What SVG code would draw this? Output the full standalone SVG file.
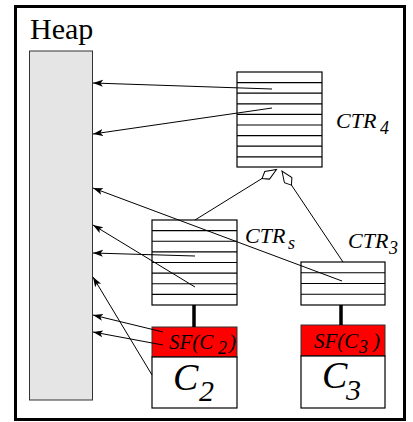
<svg xmlns="http://www.w3.org/2000/svg" width="413" height="422" viewBox="0 0 413 422">
<style>
.t{font-family:"Liberation Serif","Times New Roman",serif;fill:#000}
.i{font-style:italic}
.box{fill:#fff;stroke:#000;stroke-width:1.2}
.row{stroke:#000;stroke-width:1.2}
.ref{stroke:#000;stroke-width:1;fill:none}
.thick{stroke:#000;stroke-width:3.5}
.sf{fill:#ff0000;stroke:#333;stroke-width:1}
</style>
<defs>
<marker id="ah" markerUnits="userSpaceOnUse" markerWidth="12" markerHeight="8" refX="10" refY="3.5" orient="auto">
<path d="M0,0 L10,3.5 L0,7 L2.5,3.5 Z" fill="#000"/>
</marker>
<marker id="hol" markerUnits="userSpaceOnUse" markerWidth="20" markerHeight="12" refX="18" refY="5" orient="auto">
<path d="M18,5 L7,0.5 L1,5 L7,9.5 Z" fill="#fff" stroke="#000" stroke-width="1"/>
</marker>
</defs>
<rect x="15.5" y="6.5" width="389" height="413" fill="#fff" stroke="#000" stroke-width="3"/>
<g id="heap">
<text class="t" x="30" y="39" font-size="30">Heap</text>
<rect x="29.5" y="51" width="63" height="349" fill="#e5e5e5" stroke="#333" stroke-width="1"/>
</g>
<g id="ctr4">
<rect class="box" x="237" y="72" width="85" height="95"/>
<path class="row" d="M237,82.6H322M237,93.2H322M237,103.8H322M237,114.4H322M237,125H322M237,135.6H322M237,146.2H322M237,156.8H322"/>
<text class="t i" x="336" y="128" font-size="22">CTR<tspan x="380" y="134" font-size="18">4</tspan></text>
</g>
<g id="ctrs">
<rect class="box" x="152" y="220" width="85" height="85"/>
<path class="row" d="M152,230.6H237M152,241.25H237M152,251.9H237M152,262.5H237M152,273.1H237M152,283.75H237M152,294.4H237"/>
<text class="t i" x="245" y="243" font-size="22">CTR<tspan x="288" y="249" font-size="18">s</tspan></text>
</g>
<g id="ctr3">
<rect class="box" x="301" y="262" width="84" height="43"/>
<path class="row" d="M301,272.75H385M301,283.5H385M301,294.25H385"/>
<text class="t i" x="348" y="248" font-size="22">CTR<tspan x="389" y="254" font-size="18">3</tspan></text>
</g>
<g id="c2">
<rect class="sf" x="152" y="327" width="85" height="30"/>
<rect class="box" x="152" y="357" width="85" height="51"/>
<text class="t i" x="169" y="349" font-size="21">SF(C<tspan x="218" y="354" font-size="18">2</tspan><tspan x="229" y="349" font-size="21">)</tspan></text>
<text class="t i" x="173" y="390" font-size="38">C<tspan x="199" y="401" font-size="30">2</tspan></text>
</g>
<g id="c3">
<rect class="sf" x="301" y="325" width="84" height="31"/>
<rect class="box" x="301" y="356" width="84" height="52"/>
<text class="t i" x="314" y="348" font-size="21">SF(C<tspan x="359" y="353" font-size="18">3</tspan><tspan x="373" y="348" font-size="21">)</tspan></text>
<text class="t i" x="322" y="388" font-size="38">C<tspan x="346" y="400" font-size="30">3</tspan></text>
</g>
<g id="connectors">
<line class="thick" x1="194" y1="305" x2="194" y2="327"/>
<line class="thick" x1="341" y1="305" x2="341" y2="325"/>
<line class="ref" x1="195" y1="220" x2="276.5" y2="169.5" marker-end="url(#hol)"/>
<line class="ref" x1="343" y1="262" x2="282" y2="171" marker-end="url(#hol)"/>
<line class="ref" x1="272" y1="89" x2="93" y2="83" marker-end="url(#ah)"/>
<line class="ref" x1="272" y1="108" x2="93" y2="134" marker-end="url(#ah)"/>
<line class="ref" x1="342" y1="281" x2="93" y2="188" marker-end="url(#ah)"/>
<line class="ref" x1="195" y1="287" x2="93" y2="225" marker-end="url(#ah)"/>
<line class="ref" x1="195" y1="256" x2="93" y2="253" marker-end="url(#ah)"/>
<line class="ref" x1="152" y1="375" x2="93" y2="277" marker-end="url(#ah)"/>
<line class="ref" x1="163" y1="332" x2="93" y2="315" marker-end="url(#ah)"/>
<line class="ref" x1="163" y1="345" x2="93" y2="332" marker-end="url(#ah)"/>
</g>
</svg>
